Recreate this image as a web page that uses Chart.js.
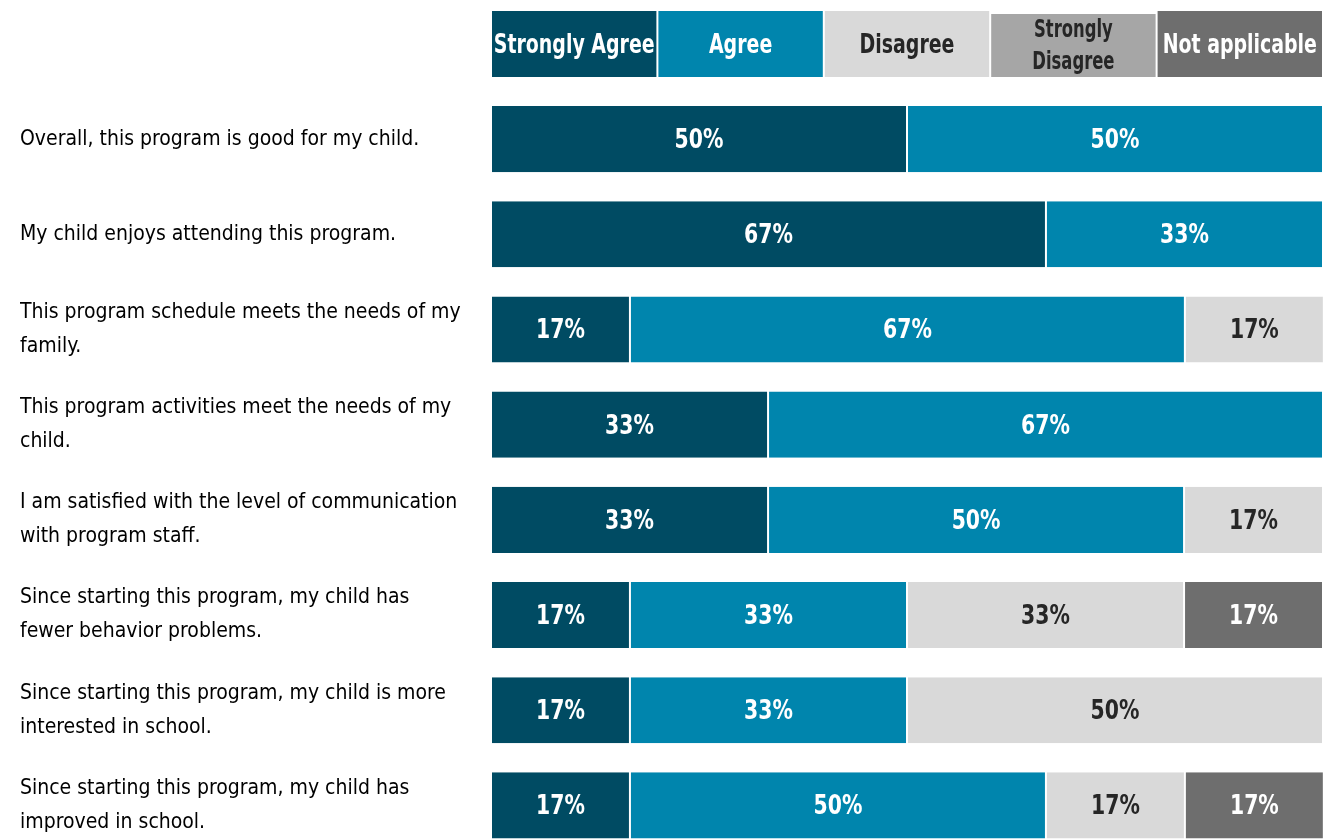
<!DOCTYPE html>
<html>
<head>
<meta charset="utf-8">
<script src="https://cdn.jsdelivr.net/npm/chart.js@4"></script>
<style>
html,body{margin:0;padding:0;background:#fff;overflow:hidden;}
#wrap{width:1333px;height:853px;position:relative;}
</style>
</head>
<body>
<div id="wrap"><canvas id="c"></canvas></div>
<script>
const categories = [
  ["Overall, this program is good for my child."],
  ["My child enjoys attending this program."],
  ["This program schedule meets the needs of my", "family."],
  ["This program activities meet the needs of my", "child."],
  ["I am satisfied with the level of communication", "with program staff."],
  ["Since starting this program, my child has", "fewer behavior problems."],
  ["Since starting this program, my child is more", "interested in school."],
  ["Since starting this program, my child has", "improved in school."]
];
const seriesNames = ["Strongly Agree", "Agree", "Disagree", "Strongly Disagree", "Not applicable"];
const stronglyAgree    = [50, 66.7, 16.7, 33.3, 33.3, 16.7, 16.7, 16.7];
const agree            = [50, 33.3, 66.7, 66.7, 50,   33.3, 33.3, 50];
const disagree         = [0,  0,    16.7, 0,    16.7, 33.3, 50,   16.7];
const stronglyDisagree = [0,  0,    0,    0,    0,    0,    0,    0];
const notApplicable    = [0,  0,    0,    0,    0,    16.7, 0,    16.7];

const colors = ["#004b63", "#0085ad", "#d9d9d9", "#a6a6a6", "#6e6e6e"];
const textColors = ["#ffffff", "#ffffff", "#262626", "#262626", "#ffffff"];
const FONT = "'DejaVu Sans Condensed', 'Liberation Sans Narrow', 'Roboto', sans-serif";

const seriesValues = [stronglyAgree, agree, disagree, stronglyDisagree, notApplicable];

const datasets = seriesNames.map((name, i) => ({
  label: name,
  data: seriesValues[i],
  backgroundColor: colors[i],
  borderColor: "#ffffff",
  borderWidth: {left: 1, right: 1, top: 0, bottom: 0},
  borderSkipped: false,
  barPercentage: 0.695,
  categoryPercentage: 1.0
}));

function condensedText(ctx, txt, x, y, sx) {
  ctx.save();
  ctx.translate(x, y);
  ctx.scale(sx, 1);
  ctx.fillText(txt, 0, 0);
  ctx.restore();
}

const valueLabels = {
  id: "valueLabels",
  afterDatasetsDraw(chart) {
    const ctx = chart.ctx;
    ctx.save();
    ctx.font = "bold 27px " + FONT;
    ctx.textAlign = "center";
    ctx.textBaseline = "middle";
    chart.data.datasets.forEach((ds, di) => {
      const meta = chart.getDatasetMeta(di);
      meta.data.forEach((el, i) => {
        const v = ds.data[i];
        if (!v) return;
        const p = el.getProps(["x", "y", "base"], true);
        ctx.fillStyle = textColors[di];
        condensedText(ctx, Math.round(v) + "%", (p.x + p.base) / 2, p.y + 2, 0.84);
      });
    });
    ctx.restore();
  }
};

const headerLegend = {
  id: "headerLegend",
  afterDraw(chart) {
    const ctx = chart.ctx;
    const a = chart.chartArea;
    const n = chart.data.datasets.length;
    const w = (a.right - a.left) / n;
    ctx.save();
    chart.data.datasets.forEach((ds, i) => {
      const x0 = a.left + i * w;
      const top = (i === 3) ? 14 : 11;
      ctx.fillStyle = ds.backgroundColor;
      ctx.fillRect(x0 + 1, top, w - 2, 77 - top);
      ctx.fillStyle = textColors[i];
      ctx.font = "bold 27px " + FONT;
      ctx.textAlign = "center";
      ctx.textBaseline = "middle";
      const cx = x0 + w / 2;
      const words = ds.label;
      if (i === 3) {
        const parts = words.split(" ");
        ctx.font = "bold 24px " + FONT;
        condensedText(ctx, parts[0], cx, 31, 0.76);
        condensedText(ctx, parts.slice(1).join(" "), cx, 63, 0.76);
      } else {
        const tw = ctx.measureText(words).width;
        const sx = Math.min(0.78, (w - 4) / tw);
        condensedText(ctx, words, cx, 46, sx);
      }
    });
    ctx.restore();
  }
};

new Chart(document.getElementById("c"), {
  type: "bar",
  data: { labels: categories, datasets },
  options: {
    indexAxis: "y",
    responsive: true,
    maintainAspectRatio: false,
    animation: false,
    layout: { padding: { top: 91.5, left: 20, right: 10, bottom: 0 } },
    plugins: { legend: { display: false }, tooltip: { enabled: false } },
    scales: {
      x: { stacked: true, min: 0, max: 100, display: false },
      y: {
        stacked: true,
        grid: { display: false },
        border: { display: false },
        afterFit(scale) {
          scale.width = 471;
          scale.paddingTop = 0;
          scale.paddingBottom = 0;
        },
        ticks: {
          crossAlign: "far",
          color: "#000000",
          font: { family: FONT, size: 21, lineHeight: 1.62 }
        }
      }
    }
  },
  plugins: [valueLabels, headerLegend]
});
</script>
</body>
</html>
